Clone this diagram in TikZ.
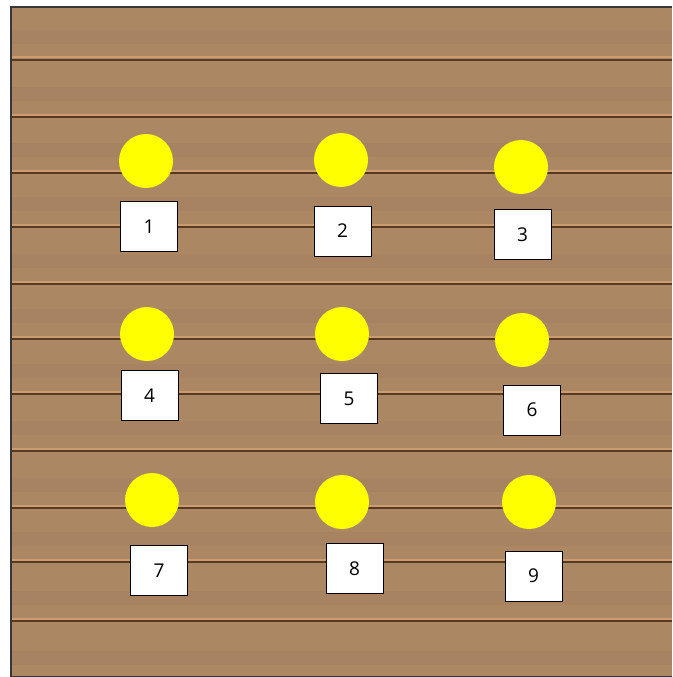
\documentclass[tikz,border=0pt]{standalone}
\usepackage{fontspec}
\setmainfont{Open Sans}
\usetikzlibrary{positioning}
\definecolor{WoodBase}{RGB}{172,135,100}
\definecolor{WoodGrain}{RGB}{168,131,97}
\definecolor{WoodGroove}{RGB}{88,58,34}
\definecolor{WoodEdge}{RGB}{204,156,110}
\definecolor{FrameGray}{RGB}{55,55,55}
\definecolor{LampYellow}{RGB}{255,255,0}

\tikzset{
  lamp/.style={circle, fill=LampYellow, minimum size=54pt, inner sep=0pt},
  tag/.style={draw=black, fill=white, minimum width=57pt, minimum height=50pt,
              inner sep=0pt, line width=0.8pt, font=\fontsize{19}{22}\selectfont},
}

\begin{document}
\begin{tikzpicture}[x=1pt,y=-1pt]
\useasboundingbox (0,0) rectangle (672,677);
% wooden wall
\fill[WoodBase] (11,7) rectangle (672,677);
\foreach \gy in {60,117,173,227,284,339,394,451,508,562,621}{
  \fill[WoodGrain] (11,\gy-30) rectangle (672,\gy-16);
  \draw[WoodEdge, line width=2pt] (11,\gy-2.5) -- (672,\gy-2.5);
  \draw[WoodGroove, line width=1.8pt] (11,\gy) -- (672,\gy);
}
\fill[WoodGrain] (11,651) rectangle (672,665);
\draw[FrameGray, line width=1.5pt] (672,7) -- (11,7) -- (11,677);
\draw[FrameGray, line width=1pt] (11,676.5) -- (672,676.5);

% lamps and their numbers
\foreach \n/\cx/\cy/\tx/\ty in {1/146/161/149/226.5, 2/341/160/342.5/231,
    3/521/167/522.5/234.5, 4/147/334/149.5/395.5, 5/342/334/349/398.5,
    6/522/340/532/410, 7/152/500/159/570.5, 8/342/502/354.5/568.5,
    9/529/502/533.5/576}{
  \node[lamp] (lamp\n) at (\cx,\cy) {};
  \node[tag] (tag\n) at (\tx,\ty) {\n\hspace{5pt}};
}
\end{tikzpicture}
\end{document}
